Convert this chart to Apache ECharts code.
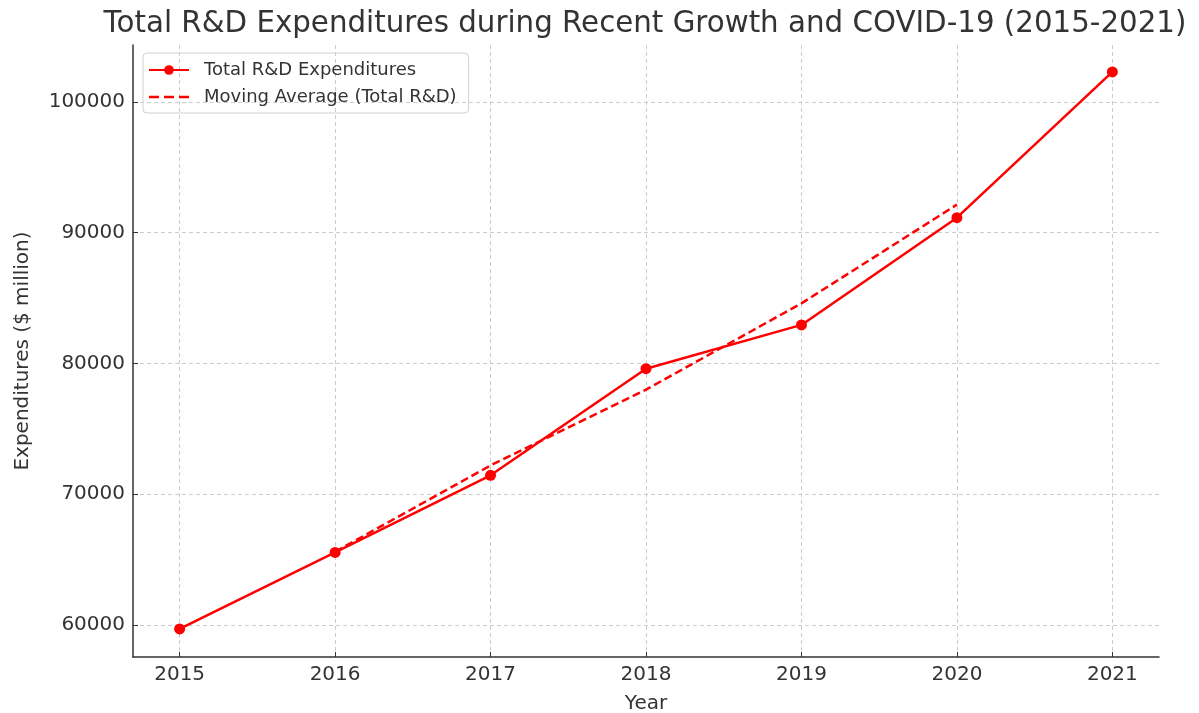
<!DOCTYPE html>
<html><head><meta charset="utf-8">
<script src="https://cdn.jsdelivr.net/npm/echarts@6/dist/echarts.min.js"></script>
<style>html,body{margin:0;padding:0;background:#fff}#c{width:1199px;height:713px}</style>
</head><body><div id="c"></div>
<script>
const years = [2015, 2016, 2017, 2018, 2019, 2020, 2021];
const totalRD = [59700, 65550, 71450, 79600, 82950, 91150, 102300];
const maYears = [2016, 2017, 2018, 2019, 2020];
const movingAvg = [65600, 72200, 78000, 84600, 92150];
const yTicks = [60000, 70000, 80000, 90000, 100000];

const chart = echarts.init(document.getElementById('c'));
const font = 'DejaVu Sans';
chart.setOption({
  animation: false,
  backgroundColor: '#fff',
  title: {
    text: 'Total R&D Expenditures during Recent Growth and COVID-19 (2015-2021)',
    left: 640, top: 5, textAlign: 'center',
    textStyle: {fontFamily: font, fontSize: 29.3, fontWeight: 'normal', color: '#333'}
  },
  legend: {
    orient: 'vertical', left: 143, top: 53,
    itemWidth: 40, itemHeight: 12, itemGap: 9,
    padding: [8, 12, 7, 5],
    borderColor: '#d0d0d0', borderWidth: 1, borderRadius: 4,
    textStyle: {fontFamily: font, fontSize: 18, color: '#333', padding: [0, 0, 0, 10]},
    data: [
      {name: 'Total R&D Expenditures'},
      {name: 'Moving Average (Total R&D)', icon: 'path://M0,4h10v2.6H0z M15,4h10v2.6h-10z M30,4h10v2.6h-10z'}
    ]
  },
  grid: {left: 133, right: 40, top: 45, bottom: 56, outerBoundsMode: 'none', containLabel: false},
  xAxis: {
    type: 'value', min: 2014.7, max: 2021.3, interval: 1,
    name: 'Year', nameLocation: 'middle', nameGap: 37,
    nameTextStyle: {fontFamily: font, fontSize: 20, color: '#333'},
    axisLine: {show: true, lineStyle: {color: '#333', width: 1.5}},
    axisTick: {show: true, inside: true, length: 5, lineStyle: {color: '#333'}, customValues: years},
    axisLabel: {fontFamily: font, fontSize: 20, color: '#333', margin: 8, customValues: years,
      formatter: v => String(v)},
    splitLine: {show: true, lineStyle: {color: '#ccc', type: [4, 3], width: 1}}
  },
  yAxis: {
    type: 'value', min: 57550, max: 104360,
    name: 'Expenditures ($ million)', nameLocation: 'middle', nameGap: 100,
    nameTextStyle: {fontFamily: font, fontSize: 20, color: '#333'},
    axisLine: {show: true, lineStyle: {color: '#333', width: 1.5}},
    axisTick: {show: true, inside: true, length: 5, lineStyle: {color: '#333'}, customValues: yTicks},
    axisLabel: {fontFamily: font, fontSize: 20, color: '#333', margin: 8, customValues: yTicks,
      formatter: v => String(v)},
    splitLine: {show: true, lineStyle: {color: '#ccc', type: [4, 3], width: 1}}
  },
  series: [
    {
      name: 'Total R&D Expenditures', type: 'line',
      data: years.map((y, i) => [y, totalRD[i]]),
      symbol: 'circle', symbolSize: 11,
      itemStyle: {color: '#ff0000'},
      lineStyle: {color: '#ff0000', width: 2.5}
    },
    {
      name: 'Moving Average (Total R&D)', type: 'line',
      data: maYears.map((y, i) => [y, movingAvg[i]]),
      symbol: 'none', showSymbol: false,
      itemStyle: {color: '#ff0000'},
      lineStyle: {color: '#ff0000', width: 2.5, type: [8, 4]}
    }
  ]
});
</script></body></html>
